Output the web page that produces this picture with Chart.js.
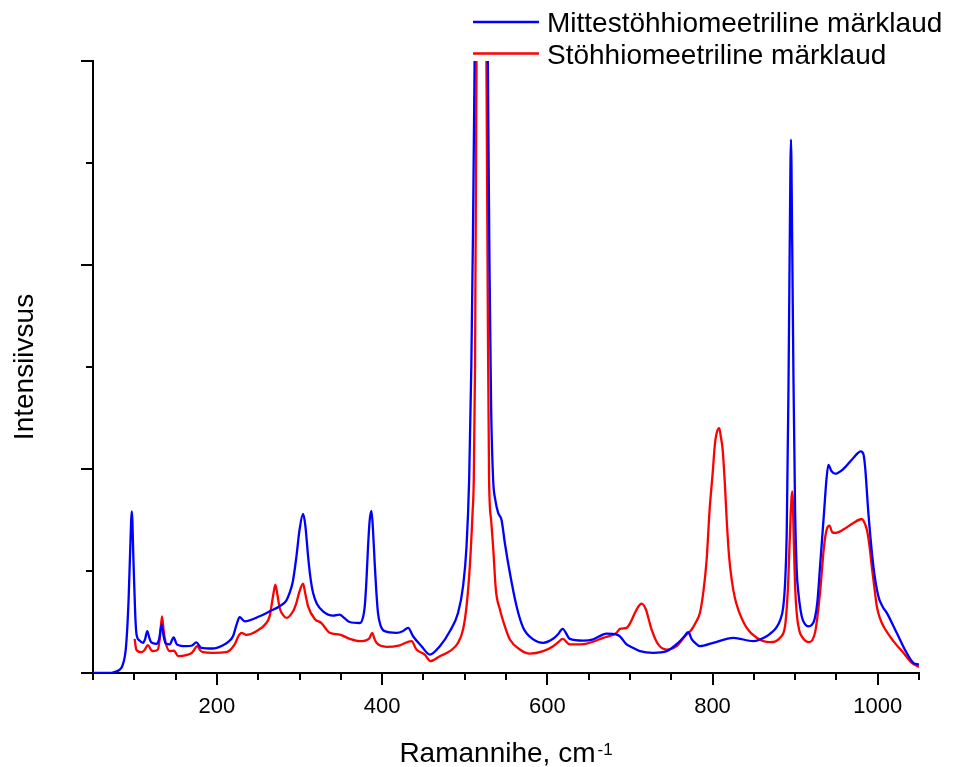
<!DOCTYPE html>
<html>
<head>
<meta charset="utf-8">
<title>Raman</title>
<script src="https://cdn.jsdelivr.net/npm/chart.js@4.4.1/dist/chart.umd.min.js"></script>
<style>
  html, body { margin: 0; padding: 0; background: #fff; }
  #wrap { width: 962px; height: 767px; position: relative; }
</style>
</head>
<body>
<div id="wrap"><canvas id="ramanChart"></canvas></div>
<script>
// series labels
const seriesNames = ['Mittestöhhiomeetriline märklaud', 'Stöhhiomeetriline märklaud'];

// Mittestöhhiomeetriline (blue) - Raman shift, cm-1
const blueX = [50, 70, 76, 82, 86, 90, 93, 95, 97, 99, 101, 102.5, 106, 110.5, 113, 115.7, 118, 120.6, 126.6, 130,
  133.1, 135.5, 138, 142.8, 147.6, 151.6, 163, 170, 175, 181, 195, 207.4, 213, 219.5, 224, 227.6, 233.6, 251.8, 264, 276,
  284, 288, 292, 296.3, 300, 304.3, 307, 310.4, 313, 316.4, 321, 328.5, 340.6, 348.7, 354, 360.8, 372.9, 377, 379, 381,
  383, 385, 387.1, 389, 391, 393, 395, 398, 403.2, 417.4, 425, 431.5, 437.5, 447.7, 457.8, 469.9, 482, 492, 498, 502.2,
  505.4, 508, 510, 512, 515, 520, 525, 528, 530, 532, 534.4, 537, 540.5, 544.6, 548.6, 554.7, 562.8, 570.8, 582.9, 595,
  607, 613, 618.5, 627.3, 643.4, 655.6, 671.8, 683.9, 687.9, 696, 700, 712.1, 728.3, 744.5, 758.5, 765, 770.7, 775, 778.8, 784.8,
  800.9, 825.2, 849.4, 865.6, 872, 877.7, 882, 885.7, 888, 889.9, 892, 893.5, 895, 896.5, 898, 900, 902, 904, 908, 912,
  916, 920, 924, 927, 930.2, 935, 938, 940.3, 944, 948.4, 958.4, 970.5, 979.5, 982.5, 984.7, 988.7, 994.8, 1000.8, 1006, 1011,
  1023, 1035, 1043, 1050];
const blueY = [0, 0, 0.01, 0.03, 0.08, 0.26, 0.7, 1.2, 1.585, 1.1, 0.6, 0.39, 0.32, 0.296, 0.33, 0.41, 0.35, 0.30, 0.286, 0.33,
  0.475, 0.36, 0.289, 0.28, 0.35, 0.28, 0.263, 0.27, 0.30, 0.247, 0.24, 0.272, 0.30, 0.36, 0.48, 0.547, 0.507, 0.556, 0.605, 0.654,
  0.71, 0.786, 0.9, 1.144, 1.4, 1.56, 1.45, 1.144, 0.95, 0.786, 0.68, 0.605, 0.563, 0.573, 0.54, 0.50, 0.49, 0.55, 0.654, 0.9,
  1.242, 1.5, 1.59, 1.4, 1.08, 0.8, 0.59, 0.47, 0.41, 0.394, 0.41, 0.443, 0.36, 0.263, 0.181, 0.263, 0.41, 0.59, 0.85, 1.24,
  1.9, 3.0, 4.3, 6.0, 8.5, 10, 8.5, 6.0, 4.0, 2.6, 1.9, 1.7, 1.57, 1.50, 1.275, 0.98, 0.654, 0.443, 0.33, 0.296,
  0.335, 0.38, 0.433, 0.335, 0.318, 0.33, 0.387, 0.377, 0.36, 0.28, 0.263, 0.215, 0.198, 0.214, 0.296, 0.35, 0.40, 0.33, 0.296, 0.263,
  0.296, 0.345, 0.312, 0.36, 0.40, 0.45, 0.52, 0.65, 0.9, 1.4, 2.8, 4.2, 5.23, 4.2, 2.9, 1.6, 1.0, 0.786, 0.556, 0.48,
  0.458, 0.47, 0.54, 0.7, 1.046, 1.57, 1.9, 2.04, 1.98, 1.954, 2.0, 2.108, 2.173, 2.15, 2.026, 1.57, 1.046, 0.752, 0.65, 0.59,
  0.394, 0.198, 0.1, 0.083];

// Stöhhiomeetriline (red)
const redX = [100.4, 102.4, 108.5, 112, 116.5, 120, 122.6, 128.6, 131, 133.5, 135.5, 138, 142.8, 148, 152.9, 163, 170, 176.3, 180, 183.1,
  195.2, 211.4, 221.5, 226, 229.6, 235.7, 247.8, 259.9, 264, 266, 268.5, 270.8, 273, 276, 280, 284.2, 292.2, 296, 299.5, 304.3,
  307, 310.4, 318.4, 326.5, 336.6, 348.7, 360.8, 372.9, 384.3, 388, 390.5, 393.2, 405.3, 421.4, 435.6, 441.6, 451.7, 458.6, 469.9, 482,
  492, 498, 502.2, 506.2, 509.5, 511, 512.5, 514.3, 516.5, 520, 523.5, 526.3, 528, 529.5, 532, 534.4, 537.7, 542.6, 548.6, 554.7,
  566.8, 578.9, 595, 607.1, 613, 618.5, 627.3, 647.6, 667.7, 683.9, 687.9, 696, 701, 706.1, 711, 714.2, 719.4, 723, 726.3, 734.3,
  744.5, 756.6, 766.7, 774.8, 780, 784.8, 789, 792.9, 796.5, 800.2, 803, 805, 808.2, 810, 812.3, 815, 817.2, 820, 823.2, 827,
  831.2, 841.4, 853.5, 869.6, 881.7, 887.8, 890, 891.8, 894.7, 896.6, 898.6, 900, 901.9, 905, 908, 917.2, 924.1, 927, 930.2, 935,
  938, 941.5, 945, 948.4, 958.4, 970.5, 980.7, 983, 986.8, 990, 992.8, 995.8, 998.9, 1003, 1007, 1019, 1031.1, 1041.3, 1050];
const redY = [0.335, 0.23, 0.204, 0.22, 0.272, 0.23, 0.214, 0.23, 0.35, 0.556, 0.42, 0.296, 0.214, 0.22, 0.165, 0.175, 0.2, 0.263, 0.22, 0.204,
  0.198, 0.204, 0.28, 0.36, 0.394, 0.374, 0.41, 0.49, 0.56, 0.654, 0.78, 0.867, 0.78, 0.638, 0.57, 0.54, 0.605, 0.68, 0.786, 0.877,
  0.78, 0.654, 0.53, 0.49, 0.394, 0.377, 0.335, 0.312, 0.338, 0.394, 0.34, 0.296, 0.257, 0.272, 0.312, 0.23, 0.181, 0.116, 0.165, 0.214,
  0.296, 0.426, 0.654, 1.046, 1.57, 1.9, 3.0, 6.0, 8.5, 10, 8.5, 6.0, 3.5, 1.9, 1.5, 1.24, 0.818, 0.622, 0.458, 0.328,
  0.23, 0.19, 0.214, 0.263, 0.3, 0.335, 0.28, 0.289, 0.345, 0.394, 0.433, 0.443, 0.5, 0.59, 0.66, 0.68, 0.622, 0.52, 0.426, 0.28,
  0.23, 0.263, 0.36, 0.426, 0.5, 0.59, 0.8, 1.11, 1.6, 1.96, 2.25, 2.35, 2.40, 2.32, 2.19, 1.85, 1.50, 1.15, 0.916, 0.74,
  0.622, 0.443, 0.345, 0.302, 0.345, 0.458, 0.65, 0.916, 1.57, 1.78, 1.24, 0.85, 0.59, 0.42, 0.36, 0.302, 0.394, 0.55, 0.786, 1.24,
  1.4, 1.445, 1.38, 1.373, 1.406, 1.471, 1.51, 1.49, 1.406, 1.25, 1.046, 0.85, 0.654, 0.53, 0.458, 0.312, 0.198, 0.1, 0.06];

// axis ticks
const xTickLabels = [200, 400, 600, 800, 1000];
const xMinorTicks = [50, 100, 150, 250, 300, 350, 450, 500, 550, 650, 700, 750, 850, 900, 950, 1050];
const yMajorTicks = [0, 2, 4, 6];
const yMinorTicks = [1, 3, 5];

const FONT = "'Liberation Sans', Arial, Helvetica, sans-serif";

const toPoints = (xs, ys) => xs.map((x, i) => ({ x: x, y: ys[i] }));

// ticks, titles and legend drawn on top
const decorPlugin = {
  id: 'decor',
  afterDraw(chart) {
    const ctx = chart.ctx;
    const xs = chart.scales.x, ys = chart.scales.y;
    const area = chart.chartArea;
    ctx.save();
    ctx.strokeStyle = '#000';
    ctx.lineWidth = 2;
    ctx.beginPath();
    xTickLabels.forEach(v => {
      const px = Math.round(xs.getPixelForValue(v));
      ctx.moveTo(px, area.bottom); ctx.lineTo(px, area.bottom + 12);
    });
    xMinorTicks.forEach(v => {
      const px = Math.round(xs.getPixelForValue(v));
      ctx.moveTo(px, area.bottom); ctx.lineTo(px, area.bottom + 7);
    });
    yMajorTicks.forEach(v => {
      const py = Math.round(ys.getPixelForValue(v));
      ctx.moveTo(area.left, py); ctx.lineTo(area.left - 12, py);
    });
    yMinorTicks.forEach(v => {
      const py = Math.round(ys.getPixelForValue(v));
      ctx.moveTo(area.left, py); ctx.lineTo(area.left - 7, py);
    });
    ctx.stroke();

    // y title
    ctx.fillStyle = '#000';
    ctx.font = '28px ' + FONT;
    ctx.save();
    ctx.translate(33, (area.top + area.bottom) / 2);
    ctx.rotate(-Math.PI / 2);
    ctx.textAlign = 'center';
    ctx.textBaseline = 'alphabetic';
    ctx.fillText('Intensiivsus', 0, 0);
    ctx.restore();

    // x title with superscript
    const main = 'Ramannihe, cm', sup = '-1';
    ctx.font = '28px ' + FONT;
    const w1 = ctx.measureText(main).width;
    ctx.font = '17px ' + FONT;
    const w2 = ctx.measureText(sup).width;
    const x0 = (area.left + area.right) / 2 - (w1 + 2 + w2) / 2;
    ctx.textAlign = 'left';
    ctx.font = '28px ' + FONT;
    ctx.fillText(main, x0, 762);
    ctx.font = '17px ' + FONT;
    ctx.fillText(sup, x0 + w1 + 2, 755);

    // legend
    chart.data.datasets.forEach((ds, i) => {
      const ly = 22 + i * 31.5;
      ctx.strokeStyle = ds.borderColor;
      ctx.lineWidth = 2.3;
      ctx.beginPath();
      ctx.moveTo(473, ly); ctx.lineTo(539, ly);
      ctx.stroke();
      ctx.fillStyle = '#000';
      ctx.font = '28px ' + FONT;
      ctx.fillText(ds.label, 547, 32 + i * 31.5);
    });
    ctx.restore();
  }
};

const ctx = document.getElementById('ramanChart').getContext('2d');
const ramanChart = new Chart(ctx, {
  type: 'line',
  data: {
    datasets: [{
      label: seriesNames[0],
      data: toPoints(blueX, blueY),
      borderColor: '#0000ff',
      borderWidth: 2.3,
      pointRadius: 0,
      cubicInterpolationMode: 'monotone',
      fill: false
    }, {
      label: seriesNames[1],
      data: toPoints(redX, redY),
      borderColor: '#ff0000',
      borderWidth: 2.3,
      pointRadius: 0,
      cubicInterpolationMode: 'monotone',
      fill: false
    }]
  },
  options: {
    responsive: true,
    maintainAspectRatio: false,
    animation: false,
    layout: { padding: { top: 61, right: 43, left: 0, bottom: 0 } },
    plugins: {
      legend: { display: false },
      tooltip: { enabled: false }
    },
    scales: {
      x: {
        type: 'linear',
        min: 50,
        max: 1050,
        afterFit: s => { s.height = 94; },
        afterBuildTicks: s => { s.ticks = xTickLabels.map(v => ({ value: v })); },
        grid: { display: false, drawTicks: false },
        border: { display: true, color: '#000', width: 2 },
        ticks: {
          color: '#000',
          font: { family: FONT, size: 22 },
          padding: 21,
          maxRotation: 0,
          autoSkip: false,
          callback: v => String(v)
        }
      },
      y: {
        min: 0,
        max: 6,
        afterFit: s => { s.width = 93; },
        grid: { display: false, drawTicks: false },
        border: { display: true, color: '#000', width: 2 },
        ticks: { display: false }
      }
    }
  },
  plugins: [decorPlugin]
});
</script>
</body>
</html>
